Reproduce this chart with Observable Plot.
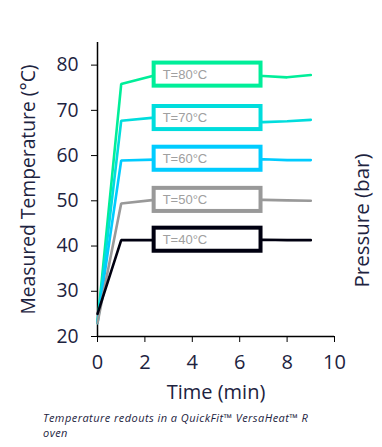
<!DOCTYPE html>
<html>
<head>
<meta charset="utf-8">
<script src="https://cdn.jsdelivr.net/npm/d3@7"></script>
<script src="https://cdn.jsdelivr.net/npm/@observablehq/plot@0.6"></script>
<style>
  html, body { margin: 0; padding: 0; background: #fff; }
  #caption { font-family: "Open Sans", sans-serif; font-style: italic; font-size: 11px; line-height: 15px; color: #1d2340; padding: 2px 0 0 43px; white-space: nowrap; letter-spacing: 0.45px; }
  #caption div { height: 15px; }
</style>
</head>
<body>
<div id="chart"></div>
<div id="caption"><div>Temperature redouts in a QuickFit™ VersaHeat™ R</div><div>oven</div></div>
<script>
const times = [0, 1, 2.4, 7, 8, 9];
const seriesNames = ["T=80°C", "T=70°C", "T=60°C", "T=50°C", "T=40°C"];
const seriesColors = ["#00ee99", "#00dddd", "#00ccff", "#999999", "#000010"];
const t80 = [23, 75.8, 77.7, 77.6, 77.3, 77.8];
const t70 = [23, 67.7, 68.4, 67.4, 67.6, 67.9];
const t60 = [23, 58.9, 59.1, 59.2, 59.0, 59.0];
const t50 = [23, 49.4, 50.2, 50.2, 50.1, 50.0];
const t40 = [25, 41.3, 41.3, 41.4, 41.3, 41.3];
const labelValues = [77.9, 68.3, 59.3, 50.2, 41.4];
const xTicks = [0, 2, 4, 6, 8, 10];
const yTicks = [20, 30, 40, 50, 60, 70, 80];

const allSeries = [t80, t70, t60, t50, t40];
const rows = [];
allSeries.forEach((vals, i) => {
  vals.forEach((v, j) => rows.push({series: seriesNames[i], color: seriesColors[i], time: times[j], temp: v}));
});
const labels = seriesNames.map((name, i) => ({name, color: seriesColors[i], value: labelValues[i]}));

const boxX1 = 2.39, boxX2 = 6.9, boxHalf = 2.55;
const ink = "#1d2340";

const chart = Plot.plot({
  width: 382,
  height: 408,
  marginLeft: 97,
  marginRight: 48,
  marginTop: 42,
  marginBottom: 72,
  style: {fontFamily: "Open Sans, sans-serif", fontSize: "18px", color: ink, background: "#fff", overflow: "visible"},
  x: {domain: [0, 10]},
  y: {domain: [20, 85]},
  marks: [
    Plot.axisX({ticks: xTicks, tickSize: 6, tickPadding: 12, stroke: "#000", label: "Time (min)", labelAnchor: "center", labelArrow: "none", labelOffset: 62, fontSize: 20}),
    Plot.axisY({ticks: yTicks, tickSize: 6, tickPadding: 13, stroke: "#000", label: "Measured Temperature (°C)", labelAnchor: "center", labelArrow: "none", labelOffset: 76, fontSize: 19.3}),
    Plot.ruleX([0], {stroke: "#000", strokeWidth: 1.5}),
    Plot.ruleY([20], {stroke: "#000", strokeWidth: 1.5}),
    Plot.line(rows, {x: "time", y: "temp", z: "series", stroke: "color", strokeWidth: 2.6, strokeLinejoin: "miter"}),
    Plot.rect(labels, {x1: () => boxX1, x2: () => boxX2, y1: d => d.value - boxHalf, y2: d => d.value + boxHalf, fill: "#fff", stroke: "color", strokeWidth: 4}),
    Plot.text(labels, {x: () => 2.75, y: "value", text: "name", textAnchor: "start", fill: "#a0a0a0", fontSize: 13, fontFamily: "Liberation Sans, Arial, sans-serif"}),
    Plot.text(["Pressure (bar)"], {frameAnchor: "right", textAnchor: "middle", lineAnchor: "middle", rotate: -90, dx: 28, dy: 31, fontSize: 20.5, fill: ink})
  ]
});
document.getElementById("chart").appendChild(chart);
</script>
</body>
</html>
